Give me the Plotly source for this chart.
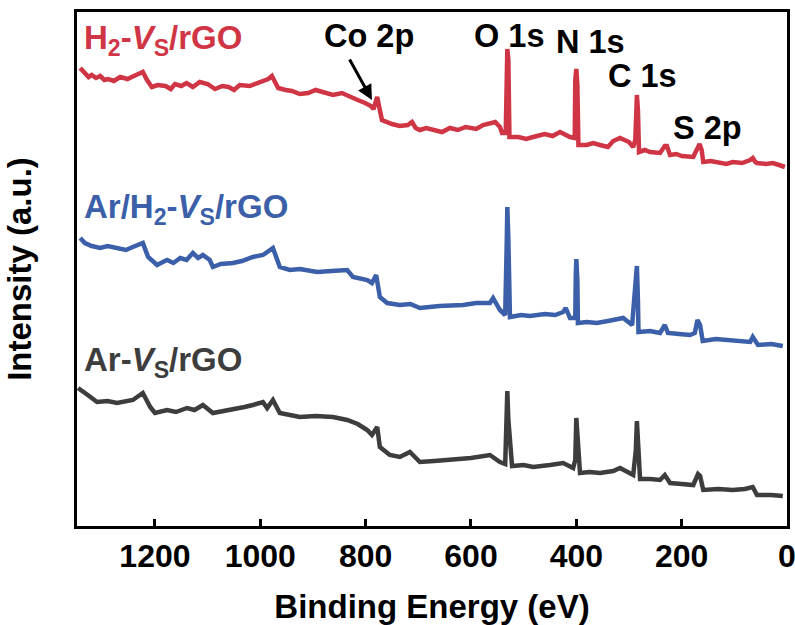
import plotly.graph_objects as go

# ---- data (binding energy in eV, intensity in arbitrary units, offset stacked) ----
h2_be = [1342, 1337, 1333, 1326, 1320, 1312, 1304, 1296, 1289, 1278, 1266, 1252, 1240, 1228,
         1223, 1215, 1206, 1195, 1180, 1170, 1162, 1150, 1140, 1128, 1115, 1100, 1086, 1072,
         1060, 1050, 1039, 1020, 1001, 985, 978, 972, 966, 952, 940, 925, 909, 895, 880, 862,
         845, 830, 815, 801, 790, 785, 780, 778, 775, 769, 750, 735, 720, 712, 705, 697, 685,
         670, 655, 640, 625, 610, 590, 577, 554, 545, 541, 534, 532, 531, 529, 527, 510, 495,
         482, 460, 445, 431, 412, 403, 402, 400, 398, 396, 380, 368, 355, 340, 330, 317, 300,
         292, 288, 286, 285, 283, 281, 270, 260, 241, 232, 228, 222, 210, 200, 178, 169, 166,
         162, 159, 145, 130, 115, 103, 85, 70, 65, 60, 57, 40, 27, 15, 4]
h2_int = [458, 455, 453, 449, 451, 448, 450, 446, 447, 445, 449, 447, 450, 452,
          454, 446, 439, 441, 440, 437, 442, 440, 443, 439, 444, 442, 437, 440,
          439, 436, 441, 440, 444, 447, 450, 444, 438, 436, 435, 432, 433, 436, 434, 431,
          433, 429, 426, 423, 420, 417, 426, 429, 421, 406, 402, 400, 401, 404, 398, 396, 398,
          396, 394, 398, 396, 399, 397, 401, 404, 399, 393, 393, 466, 477, 466, 389, 389, 387,
          389, 392, 390, 394, 389, 388, 446, 457, 441, 381, 381, 383, 381, 379, 385, 388, 384,
          379, 386, 421, 431, 416, 374, 376, 374, 373, 380, 380, 371, 372, 370, 369, 380, 382,
          376, 364, 365, 364, 362, 364, 363, 366, 368, 364, 363, 362, 363, 361, 359]

arh2_be = [1342, 1337, 1333, 1320, 1304, 1290, 1266, 1255, 1242, 1223, 1213, 1196, 1185, 1177,
           1165, 1152, 1140, 1128, 1118, 1109, 1096, 1090, 1075, 1052, 1035, 1014, 995, 976,
           963, 944, 925, 892, 865, 835, 824, 810, 797, 788, 780, 773, 759, 735, 715, 697,
           660, 615, 590, 564, 558, 545, 535, 532, 531, 529, 526, 505, 488, 460, 440, 425,
           420, 412, 402, 401, 400, 398, 397, 380, 361, 340, 311, 294, 290, 286, 285, 283, 282,
           260, 241, 232, 226, 205, 184, 175, 170, 165, 160, 135, 108, 85, 70, 65, 55, 30, 8]
arh2_int = [288, 285, 283, 280, 278, 280, 278, 276, 279, 283, 269, 261, 264, 266,
            263, 268, 266, 273, 268, 271, 266, 259, 262, 263, 265, 269, 271, 278,
            259, 256, 257, 254, 255, 256, 249, 247, 246, 243, 251, 229, 223, 221, 222, 218,
            220, 221, 223, 223, 228, 216, 211, 286, 319, 286, 209, 211, 210, 212, 211, 214,
            218, 208, 208, 251, 267, 246, 203, 204, 203, 205, 208, 201, 229, 256, 260, 226, 194,
            195, 193, 201, 193, 192, 191, 193, 206, 201, 185, 187, 186, 185, 184, 189, 181, 182, 180]

ar_be = [1346, 1337, 1325, 1310, 1290, 1272, 1255, 1242, 1223, 1209, 1200, 1188, 1177, 1160,
         1139, 1125, 1109, 1090, 1070, 1052, 1030, 1014, 995, 987, 976, 963, 945, 925, 895,
         862, 835, 815, 797, 788, 778, 773, 754, 735, 716, 697, 670, 640, 600, 564, 545, 535,
         532, 531, 529, 522, 500, 482, 450, 425, 406, 402, 400, 398, 393, 375, 355, 330, 317,
         292, 287, 285, 283, 279, 260, 241, 232, 222, 200, 178, 169, 165, 159, 130, 103, 80,
         65, 57, 30, 8]
ar_int = [138, 134, 130, 124, 125, 123, 125, 126, 133, 119, 113, 115, 116, 114,
          118, 116, 121, 113, 115, 116, 119, 121, 124, 118, 126, 113, 111, 109, 110,
          109, 106, 102, 96, 91, 99, 79, 71, 69, 74, 64, 65, 66, 68, 71, 64, 62,
          106, 135, 106, 60, 61, 59, 61, 63, 58, 66, 108, 86, 53, 54, 53, 55, 58,
          51, 76, 105, 86, 47, 47, 46, 51, 43, 42, 41, 52, 50, 36, 37, 36, 37,
          39, 31, 31, 30]

x_ticks = [0, 200, 400, 600, 800, 1000, 1200]

series = [
    ("H2-Vs/rGO", h2_be, h2_int, "#CF3544"),
    ("Ar/H2-Vs/rGO", arh2_be, arh2_int, "#3B5FA8"),
    ("Ar-Vs/rGO", ar_be, ar_int, "#3D3D3D"),
]

FONT = "Liberation Sans, Arial, sans-serif"

fig = go.Figure()
for name, xs, ys, col in series:
    fig.add_trace(go.Scatter(x=xs, y=ys, mode="lines", name=name,
                             line=dict(color=col, width=4.5), showlegend=False))

labels = [
    ("H<sub>2</sub>-<i>V</i><sub>S</sub>/rGO", 1338, 486, "#CF3544", "left", 33),
    ("Ar/H<sub>2</sub>-<i>V</i><sub>S</sub>/rGO", 1338, 317, "#3B5FA8", "left", 33),
    ("Ar-<i>V</i><sub>S</sub>/rGO", 1338, 164, "#3D3D3D", "left", 33),
    ("Co 2p", 794, 490, "black", "center", 32.5),
    ("O 1s", 528, 490, "black", "center", 32.5),
    ("N 1s", 374, 484, "black", "center", 32.5),
    ("C 1s", 275, 450, "black", "center", 32.5),
    ("S 2p", 150, 398, "black", "center", 32.5),
]
for txt, x, y, col, anc, fs in labels:
    fig.add_annotation(x=x, y=y, xref="x", yref="y", text=txt, showarrow=False,
                       xanchor=anc, yanchor="middle",
                       font=dict(family=FONT, size=fs, weight="bold", color=col))

# arrow toward Co 2p feature
fig.add_annotation(x=788, y=426, ax=832, ay=468, xref="x", yref="y", axref="x", ayref="y",
                   text="", showarrow=True, arrowhead=2, arrowsize=1.0, arrowwidth=3,
                   arrowcolor="black")

fig.update_layout(
    width=795, height=625,
    margin=dict(l=77, r=8, t=12, b=99),
    paper_bgcolor="white", plot_bgcolor="white",
    font=dict(family=FONT, color="black"),
)
fig.update_xaxes(
    range=[1348, 0], tickvals=x_ticks, ticks="inside", ticklen=7, tickwidth=2.5,
    tickcolor="black", showline=True, linecolor="black", linewidth=2.5, mirror=True,
    showgrid=False, zeroline=False, ticklabeloverflow="allow", automargin=False,
    tickfont=dict(family=FONT, size=32, weight="bold"),
    title=dict(text="Binding Energy (eV)", font=dict(family=FONT, size=33, weight="bold"),
               standoff=22),
)
fig.update_yaxes(
    range=[0, 514], showticklabels=False, ticks="", showline=True, linecolor="black",
    linewidth=2.5, mirror=True, showgrid=False, zeroline=False, automargin=False,
    title=dict(text="Intensity (a.u.)", font=dict(family=FONT, size=33, weight="bold"),
               standoff=33),
)

# remove the default page margin so the 795x625 figure fills the window exactly
fig.write_html("out.html", config={"displayModeBar": False},
               post_script="document.body.style.margin='0';document.body.style.overflow='hidden';")
